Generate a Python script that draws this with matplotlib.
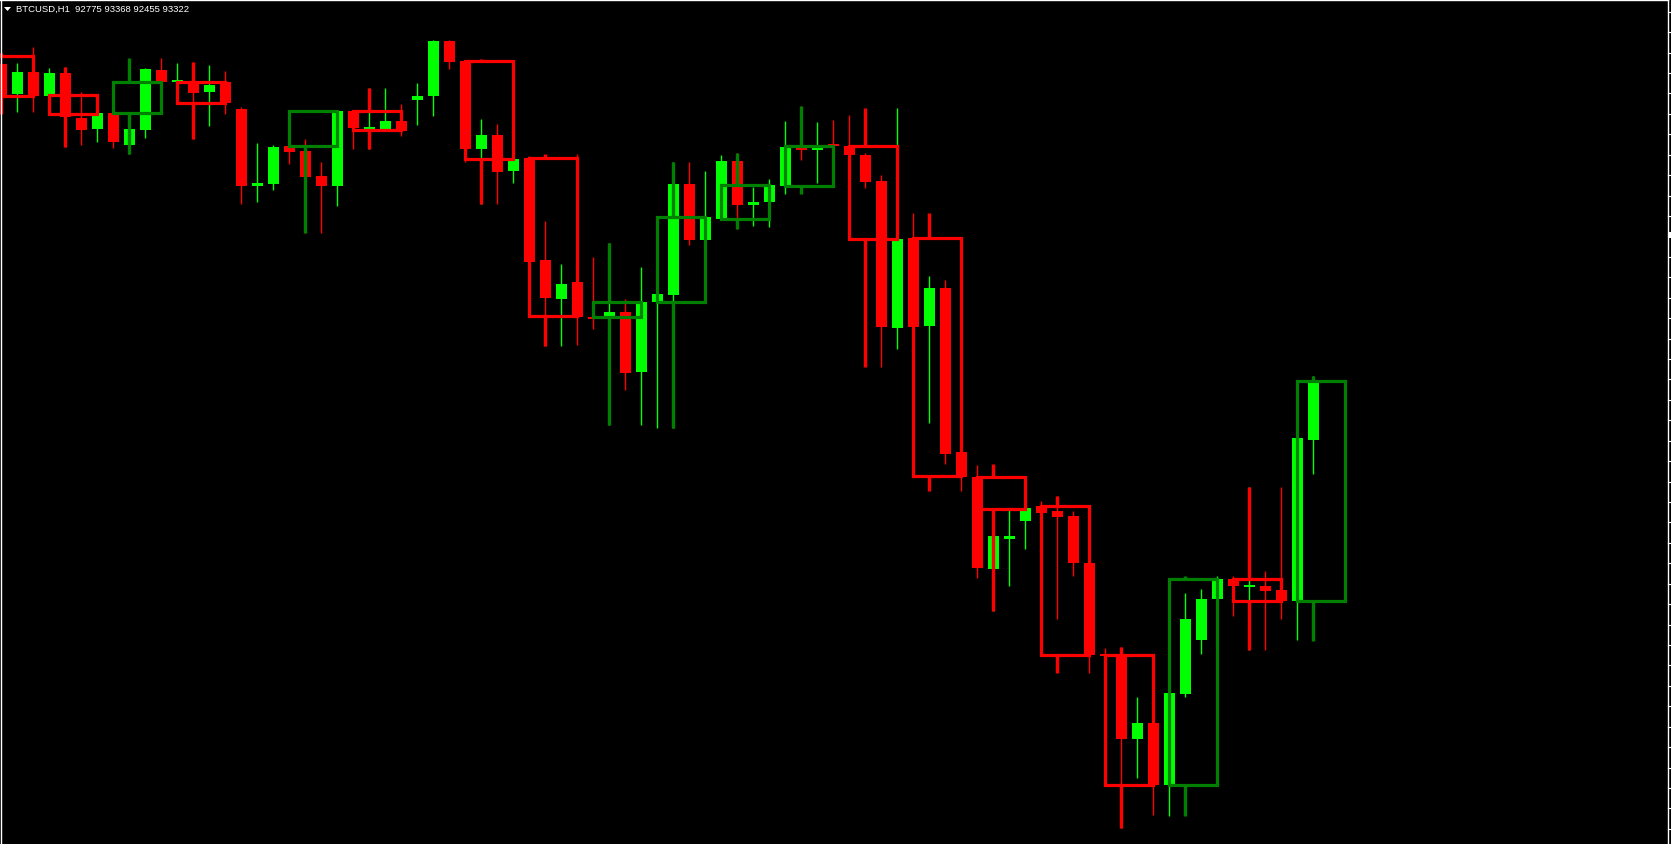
import numpy as np
import matplotlib
matplotlib.use("Agg")
import matplotlib.pyplot as plt
from matplotlib.patches import Rectangle, Polygon

# ---------------- data ----------------
title_text = "BTCUSD,H1  92775 93368 92455 93322"

# H1 candles (index 0 = leftmost visible bar)
opens = [96350, 96050, 96270, 96030, 96260, 95813, 95700, 95860, 95540, 95693,
         96290, 96165, 96180, 96073, 96167, 95900, 95125, 95150, 95530, 95480,
         95230, 95133, 95880, 95700, 95700, 95780, 95990, 96030, 96580, 96380,
         95500, 95640, 95280, 95410, 94390, 94000, 94170, 93820, 93830, 93870,
         93273, 93973, 94043, 95150, 94593, 94803, 95380, 94943, 94973, 95133,
         95517, 95493, 95533, 95530, 95440, 95180, 93713, 94610, 93733, 94110,
         92470, 92223, 91300, 91603, 91783, 91930, 91880, 91830, 91363, 90440,
         90440, 89603, 89760, 89143, 90050, 90590, 91000, 91200, 91120, 91130,
         91090, 90980, 92593]
highs = [96420, 96360, 96520, 96310, 96320, 96073, 95860, 95870, 95750, 96310,
         96410, 96360, 96370, 96340, 96283, 95920, 95560, 95540, 95540, 95600,
         95370, 95880, 95890, 96110, 96110, 95950, 96160, 96590, 96590, 96390,
         95800, 95750, 95400, 95430, 94780, 94350, 95450, 94420, 94560, 94000,
         94320, 94050, 95370, 95370, 95280, 95440, 95460, 95120, 95200, 95780,
         95930, 95770, 95790, 95840, 95460, 95240, 95910, 94860, 94230, 94190,
         92480, 92340, 91700, 91893, 91910, 91980, 92030, 91880, 91370, 90510,
         90517, 90023, 89770, 90060, 91060, 91100, 91230, 91230, 92120, 91280,
         92120, 92620, 93233]
lows = [96000, 95870, 95870, 96030, 95520, 95540, 95573, 95510, 95450, 95610,
        96160, 96150, 95600, 95733, 95850, 94950, 94973, 95093, 95350, 94660,
        94660, 94933, 95500, 95500, 95700, 95633, 95740, 95830, 96300, 95370,
        94950, 94950, 95160, 94350, 93530, 93530, 93540, 93700, 92740, 93093,
        92743, 92713, 92710, 94543, 94590, 94800, 94700, 94733, 94723, 95053,
        95390, 95160, 95520, 95430, 95110, 93323, 93500, 93710, 92760, 92350,
        92083, 91210, 90880, 91133, 91500, 91860, 90800, 91230, 90260, 90420,
        88710, 89213, 88843, 88833, 90020, 90450, 91000, 90833, 90490, 90493,
        90800, 90590, 92250]
closes = [96040, 96270, 96030, 96260, 95815, 95693, 95860, 95573, 95700, 96300,
          96170, 96180, 96063, 96140, 95957, 95133, 95160, 95520, 95470, 95223,
          95133, 95880, 95713, 95720, 95780, 95680, 96030, 96580, 96370, 95500,
          95640, 95270, 95400, 94370, 94010, 94150, 93820, 93800, 93870, 93263,
          93970, 94050, 95150, 94593, 94820, 95380, 94943, 94967, 95140, 95520,
          95493, 95517, 95525, 95440, 95170, 93720, 94600, 93720, 94110, 92453,
          92220, 91310, 91630, 91630, 91910, 91863, 91823, 91363, 90443, 90425,
          89603, 89760, 89143, 90060, 90800, 91000, 91200, 91130, 91140, 91083,
          90980, 92610, 93167]

# H4 candles drawn as boxes (first H1 bar index of each box)
h4_start = [-1, 3, 7, 11, 18, 22, 29, 33, 37, 41, 45, 49, 53, 57, 61, 65, 69, 73, 77, 81]
h4_open = [96433, 96040, 95860, 96167, 95527, 95880, 96380, 95410, 93817, 93973,
           94800, 95133, 95527, 94610, 92223, 91930, 90440, 89143, 91200, 90983]
h4_high = [96460, 96320, 96410, 96370, 95880, 96110, 96400, 95450, 94560, 95373,
           95460, 95930, 95910, 94860, 92347, 92033, 90517, 91233, 92123, 93233]
h4_low = [95850, 95520, 95450, 95600, 94660, 95500, 94950, 93530, 92740, 92707,
          94700, 95050, 93317, 92077, 90877, 90257, 88710, 88827, 90490, 90583]
h4_close = [96033, 95850, 96173, 95957, 95880, 95690, 95400, 93830, 93967, 94820,
            95140, 95527, 94597, 92227, 91900, 90443, 89143, 91200, 90983, 93177]

# ---------------- styling ----------------
W, H = 1671, 845
BULL, BEAR, BOX_BULL = "#00FF00", "#FF0000", "#008000"
fig = plt.figure(figsize=(W / 100, H / 100), dpi=100, facecolor="black")
ax = fig.add_axes([0, 0, 1, 1])
ax.set_facecolor("black")
ax.set_xlim(-1 / 16, (W - 1) / 16)
ax.set_ylim(97000 - 10 * H, 97000)
ax.axis("off")

o = np.array(opens, float); c = np.array(closes, float)
h = np.array(highs, float); l = np.array(lows, float)
x = np.arange(len(o))
up = c >= o
cols = np.where(up, BULL, BEAR)

# wicks
ax.vlines(x, l, h, colors=cols, linewidth=1.0, zorder=2)
# bodies
body_h = np.abs(c - o)
body_h = np.maximum(body_h, 20)
bottoms = np.minimum(o, c)
ax.bar(x, body_h, bottom=bottoms, width=11 / 16, color=cols, linewidth=0, zorder=3)

# H4 boxes
for s, bo, bh, bl, bc in zip(h4_start, h4_open, h4_high, h4_low, h4_close):
    col = BOX_BULL if bc >= bo else BEAR
    top, bot = max(bo, bc), min(bo, bc)
    ax.add_patch(Rectangle((s, bot), 3, top - bot, fill=False, edgecolor=col,
                           linewidth=2.3, joinstyle="miter", zorder=5))
    wx = s + 1
    if bh > top:
        ax.plot([wx, wx], [top, bh], color=col, linewidth=2.4, solid_capstyle="butt", zorder=5)
    if bl < bot:
        ax.plot([wx, wx], [bl, bot], color=col, linewidth=2.4, solid_capstyle="butt", zorder=5)

# overlay in pixel coordinates for frame, ticks, title
ov = fig.add_axes([0, 0, 1, 1], facecolor="none")
ov.set_xlim(0, W)
ov.set_ylim(H, 0)
ov.axis("off")
ov.plot([0, 1668], [1, 1], color="white", linewidth=1.0)
ov.plot([0.6, 0.6], [1, H], color="white", linewidth=1.0)
ov.plot([1668, 1668], [1, H], color="white", linewidth=1.0)
for ty in np.arange(12.7, H, 20.43):
    ov.plot([1668, 1671], [ty, ty], color="white", linewidth=0.8)
ov.add_patch(Rectangle((1668.5, 233), 3, 6, color="white", linewidth=0))
ov.add_patch(Polygon([[4, 8], [11, 8], [7.5, 12]], closed=True, color="white", linewidth=0))
ov.text(16, 9.5, title_text, color="white", fontsize=6.8, family="Liberation Sans",
        va="center", ha="left")

fig.savefig("out.png", dpi=100, facecolor="black")
